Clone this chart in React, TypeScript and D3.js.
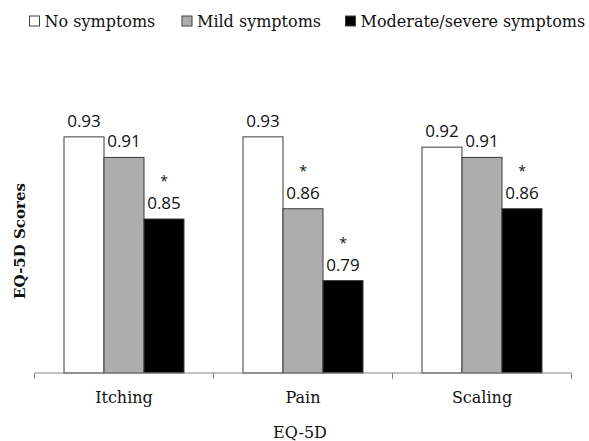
import * as d3 from "d3";
import React from "react";

const categories = ["Itching", "Pain", "Scaling"];
const seriesNames = ["No symptoms", "Mild symptoms", "Moderate/severe symptoms"];
const noSymptoms = [0.93, 0.93, 0.92];
const mildSymptoms = [0.91, 0.86, 0.91];
const severeSymptoms = [0.85, 0.79, 0.86];
// asterisk = significant difference vs. no symptoms
const noStar = [false, false, false];
const mildStar = [false, true, false];
const severeStar = [true, true, true];
const valueLabels = [
  ["0.93", "0.93", "0.92"],
  ["0.91", "0.86", "0.91"],
  ["0.85", "0.79", "0.86"],
];

const fills = ["#ffffff", "#adadad", "#000000"];
const serif = "'DejaVu Serif', serif";
const sans = "'Open Sans', sans-serif";

export default function App() {
  const width = 589;
  const height = 441;
  const axisY = 373;

  const values = [noSymptoms, mildSymptoms, severeSymptoms];
  const stars = [noStar, mildStar, severeStar];

  const x0 = d3.scaleBand<string>().domain(categories).range([34.5, 571.5]).padding(0);
  const groupW = 120;
  const x1 = d3.scaleBand<number>().domain([0, 1, 2]).range([0, groupW]).padding(0);
  const y = d3.scaleLinear().domain([0.7, 1.0]).range([axisY, 65]);

  const ticks = [...categories.map((c) => x0(c)!), x0.range()[1]];

  const legendX = [29.5, 182, 345.5];

  return (
    <svg
      width={width}
      height={height}
      style={{ position: "absolute", left: 0, top: 0, background: "#fff" }}
    >
      {/* legend */}
      {seriesNames.map((s, i) => (
        <g key={s}>
          <rect
            x={legendX[i]}
            y={16}
            width={10}
            height={10}
            fill={fills[i]}
            stroke="#404040"
            strokeWidth={1}
          />
          <text x={legendX[i] + 15} y={26.5} fontFamily={serif} fontSize={16} fill="#111">
            {s}
          </text>
        </g>
      ))}

      {/* bars */}
      {categories.map((c, ci) => {
        const gx = x0(c)! + (x0.bandwidth() - groupW) / 2;
        return (
          <g key={c} transform={`translate(${gx},0)`}>
            {values.map((series, si) => {
              const v = series[ci];
              const bx = x1(si)!;
              const bw = x1.bandwidth();
              const top = y(v);
              return (
                <g key={si}>
                  <rect
                    x={bx}
                    y={top}
                    width={bw}
                    height={axisY - top}
                    fill={fills[si]}
                    stroke="#3a3a3a"
                    strokeWidth={1}
                  />
                  <text
                    x={bx + bw / 2}
                    y={top - 10}
                    textAnchor="middle"
                    fontFamily={sans}
                    fontSize={17}
                    fill="#111"
                  >
                    {valueLabels[si][ci]}
                  </text>
                  {stars[si][ci] && (
                    <text
                      x={bx + bw / 2}
                      y={top - 33}
                      textAnchor="middle"
                      fontFamily={sans}
                      fontSize={14}
                      fill="#111"
                    >
                      *
                    </text>
                  )}
                </g>
              );
            })}
          </g>
        );
      })}

      {/* x axis */}
      <line x1={x0.range()[0]} x2={x0.range()[1]} y1={axisY} y2={axisY} stroke="#868686" strokeWidth={1} />
      {ticks.map((t, i) => (
        <line key={i} x1={t} x2={t} y1={axisY} y2={axisY + 6} stroke="#868686" strokeWidth={1} />
      ))}
      {categories.map((c) => (
        <text
          key={c}
          x={x0(c)! + x0.bandwidth() / 2}
          y={403}
          textAnchor="middle"
          fontFamily={serif}
          fontSize={16}
          fill="#111"
        >
          {c}
        </text>
      ))}

      {/* axis titles */}
      <text x={300} y={438} textAnchor="middle" fontFamily={serif} fontSize={16} fill="#111">
        EQ-5D
      </text>
      <text
        transform="translate(25,241) rotate(-90)"
        textAnchor="middle"
        fontFamily={serif}
        fontSize={15}
        fontWeight="bold"
        fill="#111"
      >
        EQ-5D Scores
      </text>
    </svg>
  );
}
